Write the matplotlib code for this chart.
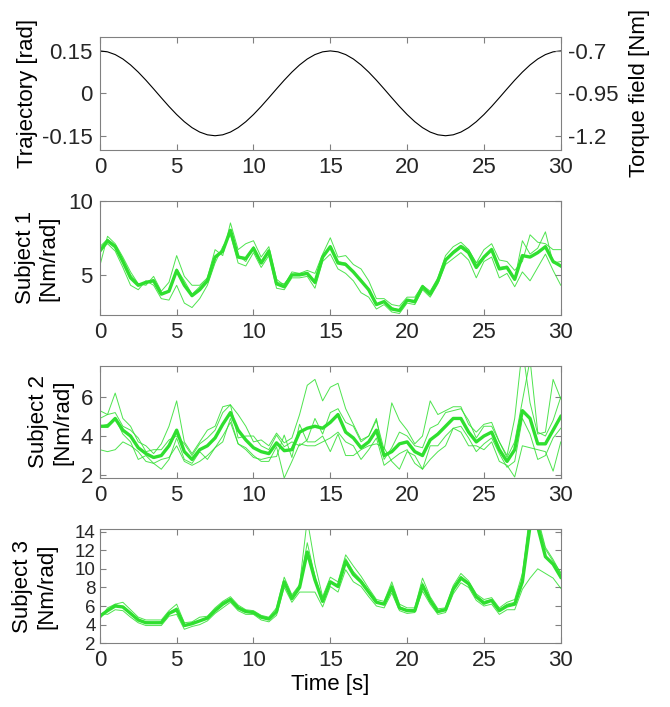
import matplotlib
matplotlib.use("Agg")
import matplotlib.pyplot as plt
import numpy as np

plt.rcParams['font.family'] = ['Liberation Sans', 'DejaVu Sans']
plt.rcParams['font.size'] = 16

# time base, 0.5 s steps
t = np.arange(0, 30.01, 0.5)

# one cycle of the reference trajectory [rad], 0..15 s
traj_cycle = [0.15, 0.1467, 0.1370, 0.1214, 0.1004, 0.0750, 0.0464, 0.0157,
              -0.0157, -0.0464, -0.0750, -0.1004, -0.1214, -0.1370, -0.1467, -0.15,
              -0.1467, -0.1370, -0.1214, -0.1004, -0.0750, -0.0464, -0.0157,
              0.0157, 0.0464, 0.0750, 0.1004, 0.1214, 0.1370, 0.1467, 0.15]
trajectory = traj_cycle + traj_cycle[1:]

# mean stiffness per subject [Nm/rad]
s1_mean = [6.6, 7.3, 6.9, 5.9, 4.8, 4.3, 4.5, 4.6, 3.7, 3.9, 5.3, 4.3, 3.6, 4.0, 4.6, 6.2,
           6.6, 8.0, 6.2, 6.1, 6.8, 5.8, 6.6, 4.4, 4.2, 5.0, 5.0, 5.1, 4.5, 6.2, 6.9, 5.8,
           5.7, 5.2, 4.6, 4.0, 3.0, 3.2, 2.7, 2.6, 3.3, 3.2, 4.2, 3.7, 4.6, 6.0, 6.5, 6.9,
           6.5, 5.5, 6.2, 6.7, 5.4, 5.5, 4.7, 6.3, 6.2, 6.5, 6.9, 5.9, 5.6]
s2_mean = [4.5, 4.5, 4.9, 4.3, 4.0, 3.4, 3.1, 2.9, 3.0, 3.5, 4.3, 3.2, 2.8, 3.3, 3.5, 3.9,
           4.6, 5.2, 4.3, 3.8, 3.4, 3.2, 3.1, 3.65, 3.25, 3.3, 4.2, 4.4, 4.5, 4.4, 4.7, 5.1,
           4.2, 3.9, 3.4, 3.7, 4.3, 3.0, 3.2, 3.6, 3.7, 3.2, 3.0, 3.8, 4.1, 4.5, 4.9, 4.9,
           4.2, 3.7, 4.0, 4.2, 3.3, 2.7, 3.3, 5.3, 4.9, 3.6, 3.6, 4.3, 5.0]
s3_mean = [4.9, 5.5, 6.0, 5.9, 5.2, 4.5, 4.2, 4.2, 4.2, 5.2, 5.6, 3.9, 4.1, 4.4, 4.7, 5.5,
           6.2, 6.7, 5.8, 5.4, 5.3, 4.8, 4.6, 5.4, 8.6, 6.8, 8.0, 11.8, 8.8, 6.5, 8.6, 8.1,
           10.8, 9.4, 8.6, 7.5, 6.4, 6.2, 8.0, 5.8, 5.5, 5.5, 8.2, 6.6, 5.4, 5.6, 7.8, 9.0,
           8.4, 7.0, 6.3, 6.6, 5.5, 6.0, 6.2, 8.6, 14.6, 14.5, 11.3, 10.5, 9.1]

# single-trial deviations from the mean
s1_trials = [
    [-1.0, 0.3, 0.2, 0.3, 0.4, 0.1, -0.2, 0.3, 0.2, 0.6, 1.0, 0.6, 0.7, 0.3, 0.2, 0.5,
     -0.3, 0.5, 0.5, 1.0, 0.5, 0.4, 0.3, 0.3, 0.1, 0.2, 0.1, 0.2, 0.6, 0.2, 0.6, 0.4,
     0.6, 0.5, 0.8, 0.6, 0.4, 0.2, 0.3, 0.3, 0.2, 0.3, 0.1, 0.2, 0.2, 0.3, 0.4, 0.3,
     0.2, 0.3, 0.5, 0.4, 0.6, 0.4, 0.6, -0.4, 1.5, 0.7, 0.2, 0.8, 1.1],
    [0.0, -0.2, -0.3, -0.4, -0.5, -0.3, 0.1, -0.3, -0.3, -0.6, -1.0, -1.2, -0.8, -0.6, -0.3, -0.4,
     0.3, -0.3, -0.4, -0.5, -0.3, -0.3, -0.3, -0.3, -0.2, -0.2, -0.2, -0.2, -0.4, -0.3, -0.5, -0.4,
     -0.6, -0.6, -0.8, -0.5, -0.3, -0.2, -0.2, -0.2, -0.2, -0.2, -0.2, -0.2, -0.2, -0.3, -0.4, -0.4,
     -0.5, -0.7, -0.3, -0.5, -0.6, -0.4, -0.5, -1.1, -1.6, -1.0, -0.5, -0.6, -1.3],
    [0.3, 0.1, 0.1, 0.1, 0.2, 0.1, -0.1, 0.1, 0.1, 0.0, 0.1, 0.3, 0.1, 0.2, 0.1, -0.1,
     0.1, -0.1, 0.1, -0.2, 0.1, 0.0, 0.1, 0.1, 0.2, 0.0, 0.1, 0.0, -0.1, 0.1, 0.0, 0.1,
     0.1, 0.0, 0.1, -0.1, 0.0, 0.0, 0.1, 0.0, 0.0, -0.1, 0.1, 0.0, 0.1, 0.0, 0.1, 0.1,
     0.2, 0.3, 0.0, 0.1, 0.1, 0.1, 0.0, 1.0, 0.2, 0.3, 1.0, -0.1, 0.3],
]
s2_trials = [
    [0.8, 0.6, 1.3, 0.6, 0.5, 0.3, 0.4, 0.2, 0.6, 1.0, 1.5, 0.5, 0.3, 0.4, 0.8, 0.6,
     0.9, 0.4, 0.8, 0.7, 0.3, 0.6, 0.4, 0.5, 0.4, 0.6, 0.9, 2.2, 2.4, 1.4, 1.8, 1.6,
     1.2, 0.7, 0.4, 0.3, 0.5, 0.3, 2.5, 1.2, 0.6, 0.4, 1.0, 2.0, 1.0, 0.8, 0.6, 0.6,
     0.4, 0.5, 0.6, 0.5, 0.4, 0.3, 1.6, 3.2, 0.8, 0.5, 0.6, 2.6, 0.9],
    [-1.2, -1.3, -1.6, -0.6, -0.5, -0.2, -0.4, -0.3, -0.2, -0.6, -0.8, -0.5, -0.3, -0.6, -0.5, -0.5,
     -0.6, -0.5, -0.7, -0.4, -0.4, -0.5, -0.4, -0.2, -1.4, -0.6, -0.6, -0.9, -1.0, -0.7, -0.8, -0.9,
     -0.5, -0.4, -0.6, -0.4, -0.4, -0.5, -0.4, -0.5, -0.4, -0.6, -0.7, -0.3, -0.6, -0.5, -0.5, -0.4,
     -0.3, -0.5, -0.4, -0.3, -0.2, -0.3, -0.6, -0.4, -0.8, -0.8, -0.6, -0.4, -0.6],
    [0.4, 0.6, 0.3, 0.2, 0.3, 0.5, 0.1, 0.4, 0.3, 0.3, -0.3, 0.4, 0.2, 0.3, 0.4, 0.4,
     0.6, 0.4, -0.4, 0.2, 0.6, 0.3, 0.2, 0.4, 0.2, 0.4, -0.7, -0.6, 0.4, -0.3, 0.5, 0.3,
     0.5, 0.6, 0.3, 0.3, 0.6, -0.2, 0.2, 0.6, 0.3, 0.3, 0.4, 0.6, 0.5, 0.7, 0.4, 0.5,
     0.6, 0.2, 0.5, 0.3, 0.4, 0.2, 0.4, 0.5, 3.0, 0.6, 0.4, 0.5, 1.0],
    [0.0, 0.1, 0.0, -0.2, -0.3, -0.6, -0.1, -0.3, -0.7, -0.7, -0.4, -0.4, -0.2, -0.1, -0.7, -0.5,
     -0.9, -0.3, -0.7, -0.5, -0.5, -0.4, -0.2, -0.7, 0.8, -0.4, 0.4, -0.7, -0.8, -0.4, -1.5, -1.0,
     -1.2, -0.9, -0.1, -0.2, -0.7, 0.4, -0.5, -1.3, -0.5, -0.2, -0.7, -1.0, -0.9, -1.0, -0.5, -0.7,
     -0.7, -0.2, -0.7, -0.5, -0.6, -0.2, -1.4, -1.8, -1.5, -0.3, -0.4, -2.1, -1.3],
]
s3_trials = [
    [-0.3, 0.3, 0.2, 0.5, 0.4, 0.3, 0.3, 0.3, 0.3, 0.3, 0.6, 0.3, 0.2, 0.4, 0.2, 0.3,
     0.3, 0.3, 0.3, 0.2, 0.2, 0.2, 0.2, 0.4, 0.5, 0.4, 0.3, 3.5, 1.7, 0.5, 0.5, 0.5,
     0.7, 0.9, 0.6, 0.4, 0.3, 0.3, 0.6, 0.4, 0.3, 0.3, 0.8, 0.4, 0.3, 0.2, 0.4, 0.5,
     0.3, 0.3, 0.4, 0.3, 0.3, 0.4, 0.5, 0.9, 1.5, 1.0, 1.0, 0.5, 0.4],
    [0.3, -0.4, -0.4, -0.4, -0.4, -0.3, -0.3, -0.3, -0.3, -0.3, -0.5, -0.4, -0.3, -0.4, -0.3, -0.3,
     -0.4, -0.3, -0.3, -0.3, -0.2, -0.3, -0.3, -0.4, -0.6, -0.4, -0.5, -4.3, -1.3, -0.6, -0.5, -0.6,
     -0.9, -0.8, -0.5, -0.5, -0.4, -0.4, -0.6, -0.3, -0.3, -0.2, -0.6, -0.4, -0.3, -0.3, -0.5, -0.5,
     -0.4, -0.4, -0.3, -0.4, -0.4, -0.4, -0.6, -0.8, -5.6, -4.5, -1.8, -1.5, -1.2],
    [0.1, 0.1, 0.2, -0.1, 0.1, 0.0, 0.1, 0.0, 0.1, 0.1, 0.2, -0.1, 0.1, 0.0, 0.1, 0.1,
     0.2, 0.1, 0.1, 0.1, 0.0, 0.1, 0.1, 0.1, -0.2, 0.2, 0.2, 1.0, 0.4, 0.1, -0.1, 0.2,
     0.3, 0.3, 0.2, 0.1, 0.1, 0.0, 0.3, 0.1, 0.1, 0.1, 0.3, 0.1, 0.1, 0.1, 0.2, 0.2,
     0.1, 0.1, 0.2, 0.1, 0.1, 0.2, 0.2, 0.4, 1.2, 0.6, 0.8, 0.3, 0.5],
]

# label, mean, trials, y-limits, y-ticks, label x, tick label size
subjects = [
    ("Subject 1\n[Nm/rad]", s1_mean, s1_trials, (2.3, 10), [5, 10], -0.136, 16),
    ("Subject 2\n[Nm/rad]", s2_mean, s2_trials, (1.85, 7.6), [2, 4, 6], -0.106, 16),
    ("Subject 3\n[Nm/rad]", s3_mean, s3_trials, (2, 14.25), [2, 4, 6, 8, 10, 12, 14], -0.142, 13.5),
]

GREEN = '#2fdf2f'
SPINE = '#808080'
TXT = '#262626'


def style(ax):
    for s in ax.spines.values():
        s.set_color(SPINE)
        s.set_linewidth(0.8)
    ax.tick_params(direction='in', length=4, width=0.8, color=SPINE, labelcolor=TXT,
                   top=True, right=True, pad=5)
    ax.set_xlim(0, 30)
    ax.set_xticks([0, 5, 10, 15, 20, 25, 30])


fig = plt.figure(figsize=(6.7, 7.07), dpi=100)
W, L = 0.688, 0.149

# trajectory panel with torque field on the right
ax0 = fig.add_axes([L, 0.788, W, 0.160])
ax0.plot(t, trajectory, color='k', lw=0.8)
style(ax0)
ax0.tick_params(right=False)
ax0.set_ylim(-0.2, 0.2)
ax0.set_yticks([-0.15, 0, 0.15])
ax0.set_yticklabels(['-0.15', '0', '0.15'])
ax0.set_ylabel("Trajectory [rad]", va='center')
ax0.yaxis.set_label_coords(-0.156, 0.5)

ax0r = ax0.twinx()
for s in ax0r.spines.values():
    s.set_visible(False)
ax0r.set_ylim(-1.2833, -0.6167)
ax0r.set_yticks([-1.2, -0.95, -0.7])
ax0r.set_yticklabels(['-1.2', '-0.95', '-0.7'])
ax0r.tick_params(direction='in', length=4, width=0.8, color=SPINE, labelcolor=TXT, pad=5)
ax0r.set_ylabel("Torque field [Nm]", va='center', rotation=90)
ax0r.yaxis.set_label_coords(1.171, 0.5)

bottoms = [0.5545, 0.3239, 0.0902]
heights = [0.1617, 0.1588, 0.1612]
for (label, mean, trials, ylim, yticks, lx, ysz), b, h in zip(subjects, bottoms, heights):
    ax = fig.add_axes([L, b, W, h])
    mean = np.array(mean)
    for dev in trials:
        ax.plot(t, mean + np.array(dev), color=GREEN, lw=0.7, alpha=0.85)
    ax.plot(t, mean, color=GREEN, lw=2.4)
    style(ax)
    ax.tick_params(axis='y', labelsize=ysz, pad=3 if ysz < 16 else 5)
    ax.set_ylim(*ylim)
    ax.set_yticks(yticks)
    ax.set_ylabel(label, va='center', linespacing=1.2)
    ax.yaxis.set_label_coords(lx, 0.5)

ax.set_xlabel("Time [s]", labelpad=2)

fig.savefig("out.png", dpi=100)
